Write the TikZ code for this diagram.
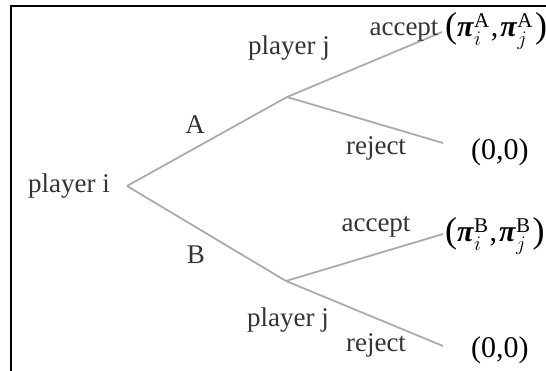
\documentclass[tikz,border=0pt]{standalone}
\usepackage{amsmath}
\usepackage{fontspec}
\setmainfont{Liberation Serif}
\newcommand{\bpi}{\textbf{\textit{π}}}
\newcommand{\bigpar}[1]{{\fontsize{36}{36}\selectfont\raisebox{-0.5pt}{#1}}}
\begin{document}
\begin{tikzpicture}[x=1pt,y=-1pt,
  branch/.style={draw=black!33, line width=1.8pt},
  lbl/.style={font=\fontsize{27}{27}\selectfont, text=black!80, inner sep=0pt},
  pay/.style={font=\fontsize{30}{30}\selectfont, inner sep=0pt, anchor=west}]
\useasboundingbox (0,0) rectangle (546,370);
\draw[line width=2pt] (11,371) -- (11,6) -- (547,6);
% tree points
\coordinate (root) at (127,186);
\coordinate (jA) at (287,97);
\coordinate (jB) at (286,281);
\coordinate (aAcc) at (442,32);
\coordinate (aRej) at (443,143);
\coordinate (bAcc) at (443,234);
\coordinate (bRej) at (443,346);
\draw[branch] (root) -- (jA);
\draw[branch] (root) -- (jB);
\draw[branch] (jA) -- (aAcc);
\draw[branch] (jA) -- (aRej);
\draw[branch] (jB) -- (bAcc);
\draw[branch] (jB) -- (bRej);
% labels
\node[lbl] (pi) at (69,186) {player i};
\node[lbl] (pjA) at (289,48) {player j};
\node[lbl] (pjB) at (288,320) {player j};
\node[lbl] (lA) at (195,125) {A};
\node[lbl] (lB) at (196,255) {B};
\node[lbl] (accA) at (404,31) {accept};
\node[lbl] (rejA) at (376,148) {reject};
\node[lbl] (accB) at (376,227) {accept};
\node[lbl] (rejB) at (376,345) {reject};
% payoffs
\node[pay] (payAacc) at (445,31) {\bigpar{(}$\bpi^{\mathrm{A}}_{i}$\kern1pt,\kern2pt$\bpi^{\mathrm{A}}_{j}$\kern2pt\bigpar{)}};
\node[pay] (payArej) at (471,152) {(0,0)};
\node[pay] (payBacc) at (445,236) {\bigpar{(}$\bpi^{\mathrm{B}}_{i}$\kern1pt,\kern2pt$\bpi^{\mathrm{B}}_{j}$\kern2pt\bigpar{)}};
\node[pay] (payBrej) at (471,350) {(0,0)};
\end{tikzpicture}
\end{document}
